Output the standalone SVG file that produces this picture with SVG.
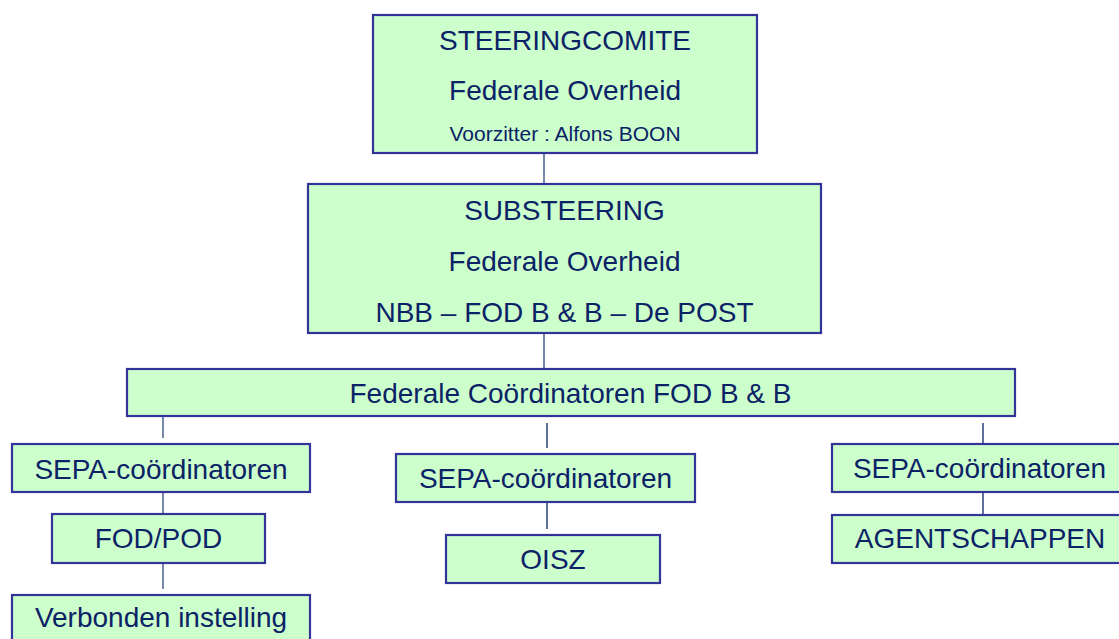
<svg xmlns="http://www.w3.org/2000/svg" width="1119" height="639" viewBox="0 0 1119 639">
<style>
.box{fill:#ccffcc;stroke:#333399;stroke-width:2.2}
.t{font-family:"Liberation Sans",Arial,sans-serif;fill:#0b2266;text-anchor:middle;font-size:28px}
.s{font-size:21px}
.c1{stroke:#4a5f8f;stroke-width:1.5;fill:none}
.c2{stroke:#0b2266;stroke-width:1.3;fill:none}
</style>
<rect width="1119" height="639" fill="#ffffff"/>
<g id="connectors">
<line class="c1" x1="544" y1="153" x2="544" y2="184"/>
<line class="c1" x1="544" y1="334" x2="544" y2="368"/>
<line class="c1" x1="163" y1="413" x2="163" y2="438"/>
<line class="c2" x1="547" y1="423" x2="547" y2="448"/>
<line class="c2" x1="983" y1="423" x2="983" y2="448"/>
<line class="c1" x1="163" y1="493" x2="163" y2="518"/>
<line class="c2" x1="547" y1="503" x2="547" y2="529"/>
<line class="c2" x1="983" y1="493" x2="983" y2="518"/>
<line class="c1" x1="163" y1="564" x2="163" y2="589"/>
</g>
<g id="steeringcomite">
<rect class="box" x="373" y="15" width="384" height="138"/>
<text class="t" x="565" y="50">STEERINGCOMITE</text>
<text class="t" x="565" y="100">Federale Overheid</text>
<text class="t s" x="565" y="141">Voorzitter : Alfons BOON</text>
</g>
<g id="substeering">
<rect class="box" x="308" y="184" width="513" height="149"/>
<text class="t" x="564.5" y="220">SUBSTEERING</text>
<text class="t" x="564.5" y="271">Federale Overheid</text>
<text class="t" x="564.5" y="322">NBB – FOD B &amp; B – De POST</text>
</g>
<g id="coordinatoren">
<rect class="box" x="127" y="369" width="888" height="47"/>
<text class="t" x="570.5" y="403">Federale Coördinatoren FOD B &amp; B</text>
</g>
<g id="sepa-left">
<rect class="box" x="12" y="444" width="298" height="48"/>
<text class="t" x="161" y="479">SEPA-coördinatoren</text>
</g>
<g id="fodpod">
<rect class="box" x="52" y="514" width="213" height="49"/>
<text class="t" x="158.5" y="548">FOD/POD</text>
</g>
<g id="verbonden">
<rect class="box" x="12" y="595" width="298" height="60"/>
<text class="t" x="161" y="627">Verbonden instelling</text>
</g>
<g id="sepa-middle">
<rect class="box" x="396" y="454" width="299" height="48"/>
<text class="t" x="545.5" y="488">SEPA-coördinatoren</text>
</g>
<g id="oisz">
<rect class="box" x="446" y="535" width="214" height="48"/>
<text class="t" x="553" y="569">OISZ</text>
</g>
<g id="sepa-right">
<rect class="box" x="832" y="444" width="300" height="48"/>
<text class="t" x="979.5" y="478">SEPA-coördinatoren</text>
</g>
<g id="agentschappen">
<rect class="box" x="832" y="515" width="300" height="48"/>
<text class="t" x="980" y="548">AGENTSCHAPPEN</text>
</g>
</svg>
